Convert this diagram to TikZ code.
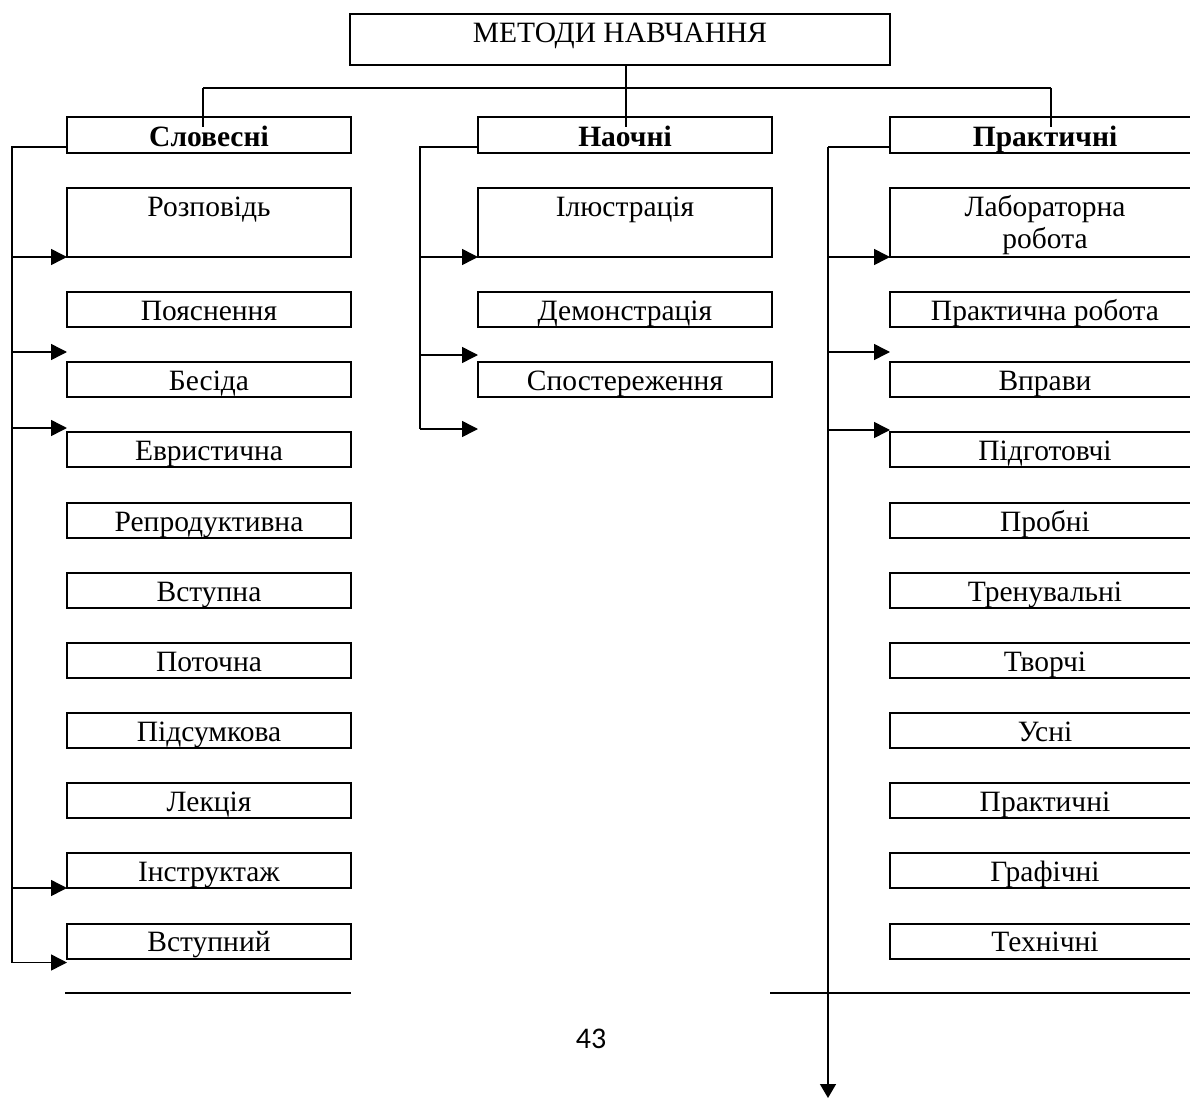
\documentclass[tikz,border=0pt]{standalone}
\usepackage{fontspec}
\setmainfont{Liberation Serif}
\newfontfamily\pagefont{Carlito}
\usetikzlibrary{arrows.meta}
\begin{document}
\begin{tikzpicture}[x=1pt,y=-1pt,
  box/.style={draw, line width=2pt, inner sep=0pt, outer sep=0pt, minimum height=35pt,
    font=\fontsize{29.5}{31.5}\selectfont, text height=22pt, text depth=1pt},
  lcol/.style={box, minimum width=284pt},
  mcol/.style={box, minimum width=294pt},
  rcol/.style={box, minimum width=310pt},
  head/.style={minimum height=36pt, font=\fontsize{29.5}{31.5}\selectfont\bfseries, text height=24pt, text depth=0pt},
  tall/.style={minimum height=69pt, text height=20pt, text depth=31pt},
  conn/.style={line width=1.5pt},
  arr/.style={conn, -{Triangle[length=16pt,width=16pt]}},
  rule/.style={line width=2pt},
]
\useasboundingbox (0,0) rectangle (1190,1099);
\clip (0,0) rectangle (1190,1099);

% top
\node[box, minimum width=540pt, minimum height=51pt, text height=20pt, text depth=13pt] (top) at (620,39.5) {МЕТОДИ НАВЧАННЯ};

% left column
\node[lcol, head] (s0) at (209,135) {Словесні};
\node[lcol, tall] (s1) at (209,222.5) {Розповідь};
\node[lcol] (s2) at (209,309.5) {Пояснення};
\node[lcol] (s3) at (209,379.5) {Бесіда};
\node[lcol] (s4) at (209,449.5) {Евристична};
\node[lcol] (s5) at (209,520.5) {Репродуктивна};
\node[lcol] (s6) at (209,590.5) {Вступна};
\node[lcol] (s7) at (209,660.5) {Поточна};
\node[lcol] (s8) at (209,730.5) {Підсумкова};
\node[lcol] (s9) at (209,800.5) {Лекція};
\node[lcol] (s10) at (209,870.5) {Інструктаж};
\node[lcol] (s11) at (209,941) {Вступний};

% middle column
\node[mcol, head] (n0) at (625,135) {Наочні};
\node[mcol, tall] (n1) at (625,222.5) {Ілюстрація};
\node[mcol] (n2) at (625,309.5) {Демонстрація};
\node[mcol] (n3) at (625,379.5) {Спостереження};

% right column
\node[rcol, head] (p0) at (1045,135) {Практичні};
\node[rcol, tall] (p1) at (1045,222.5) {\begin{tabular}[t]{@{}c@{}}Лабораторна\\робота\end{tabular}};
\node[rcol] (p2) at (1045,309.5) {Практична робота};
\node[rcol] (p3) at (1045,379.5) {Вправи};
\node[rcol] (p4) at (1045,449.5) {Підготовчі};
\node[rcol] (p5) at (1045,520.5) {Пробні};
\node[rcol] (p6) at (1045,590.5) {Тренувальні};
\node[rcol] (p7) at (1045,660.5) {Творчі};
\node[rcol] (p8) at (1045,730.5) {Усні};
\node[rcol] (p9) at (1045,800.5) {Практичні};
\node[rcol] (p10) at (1045,870.5) {Графічні};
\node[rcol] (p11) at (1045,941) {Технічні};

% bus
\coordinate (busL) at (203,88);
\coordinate (busR) at (1051,88);
\draw[conn] (busL) -- (busR);
\draw[conn] ([xshift=6pt]top.south) -- ++(0,62);
\draw[conn] (busL) -- ++(0,39);
\draw[conn] (busR) -- ++(0,39);

% left bracket
\coordinate (LB) at (12,147);
\path ([yshift=-4pt]s11.south west) coordinate (sEnd);
\draw[conn] ([yshift=-12pt]s0.west) -- (LB) -- (LB |- sEnd);
\path ([yshift=10pt]s3.north west) coordinate (sa3);
\path ([yshift=4pt]s4.north west) coordinate (sa4);
\draw[arr] (LB |- s1.south west) -- (s1.south west);
\draw[arr] (LB |- sa3) -- (sa3);
\draw[arr] (LB |- sa4) -- (sa4);
\draw[arr] (LB |- s10.south west) -- (s10.south west);
\draw[arr] (LB |- sEnd) -- (sEnd);

% middle bracket
\coordinate (MB) at (420,147);
\path ([yshift=-32pt]n3.south west) coordinate (nEnd);
\path ([yshift=7pt]n3.north west) coordinate (na3);
\draw[conn] ([yshift=-12pt]n0.west) -- (MB) -- (MB |- nEnd);
\draw[arr] (MB |- n1.south west) -- (n1.south west);
\draw[arr] (MB |- na3) -- (na3);
\draw[arr] (MB |- nEnd) -- (nEnd);

% right bracket
\coordinate (RB) at (828,147);
\coordinate (pEnd) at (828,1098);
\path ([yshift=10pt]p3.north west) coordinate (pa3);
\path ([yshift=2pt]p4.north west) coordinate (pa4);
\draw[conn] ([yshift=-12pt]p0.west) -- (RB);
\draw[conn, -{Triangle[length=14pt,width=16pt]}] (RB) -- (pEnd);
\draw[arr] (RB |- p1.south west) -- (p1.south west);
\draw[arr] (RB |- pa3) -- (pa3);
\draw[arr] (RB |- pa4) -- (pa4);

% bottom rules
\draw[rule] (65,993) -- (351,993);
\draw[rule] (770,993) -- (1195,993);

% page number
\node[font=\pagefont\fontsize{30}{36}\selectfont, anchor=base, inner sep=0pt] (pg) at (591,1048) {43};
\end{tikzpicture}
\end{document}
